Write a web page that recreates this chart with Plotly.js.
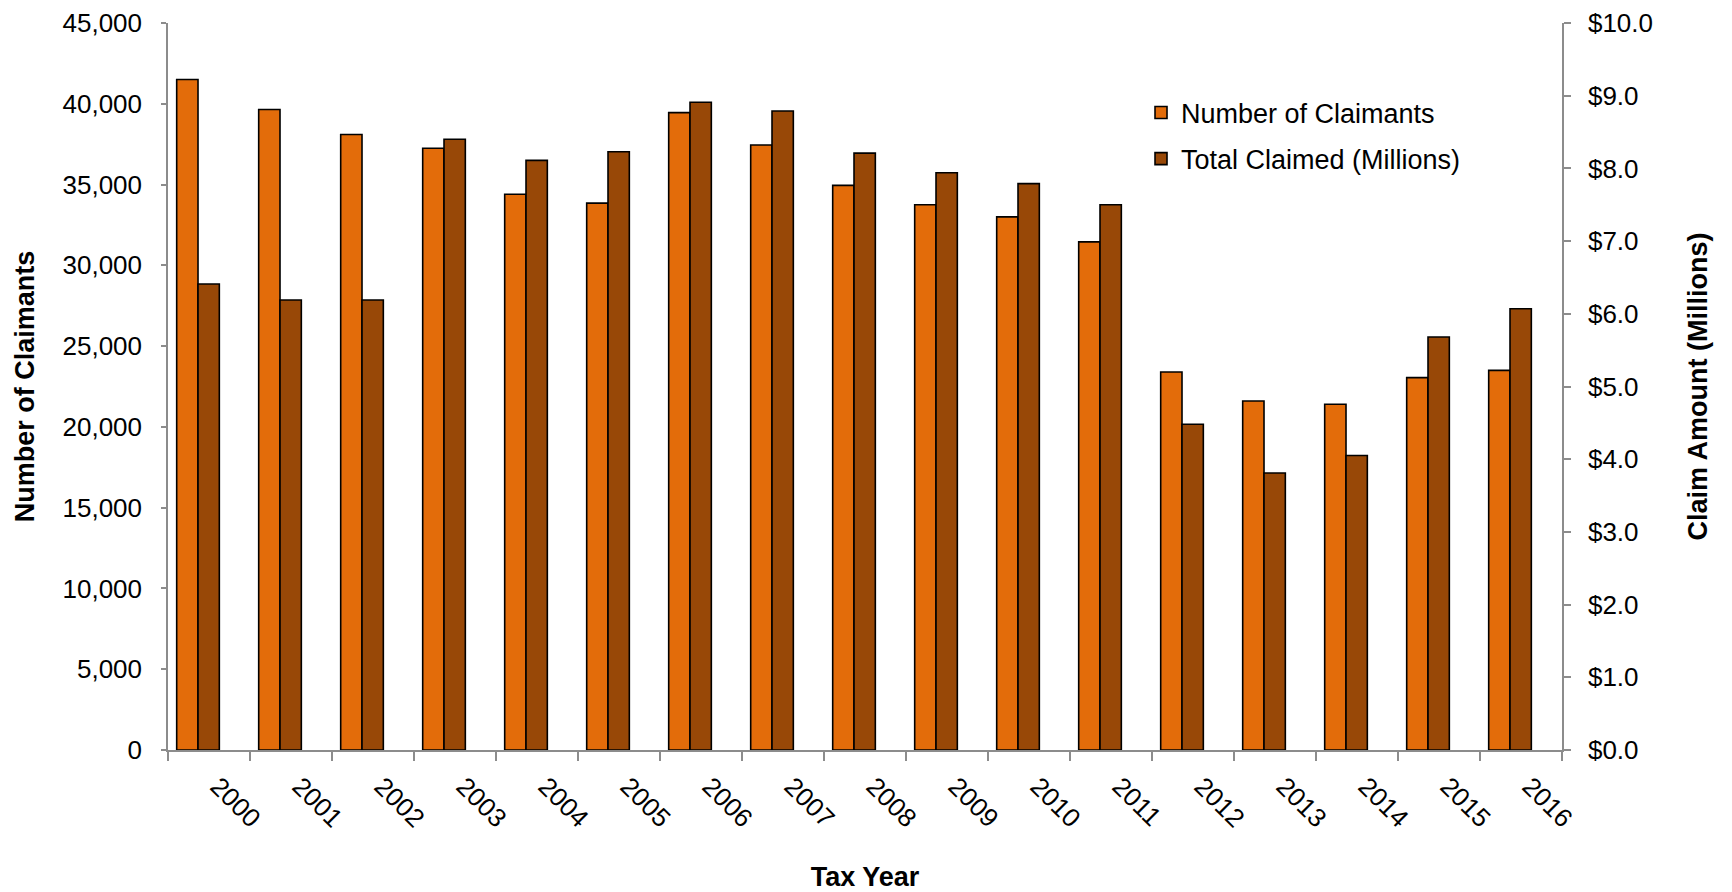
<!DOCTYPE html>
<html>
<head>
<meta charset="utf-8">
<script src="https://cdn.plot.ly/plotly-3.0.1.min.js"></script>
<style>
  html, body { margin: 0; padding: 0; background: #ffffff; }
  #chart { width: 1732px; height: 892px; }
</style>
</head>
<body>
<div id="chart"></div>
<script>
// Tax years on the category axis
const taxYears = ['2000', '2001', '2002', '2003', '2004', '2005', '2006', '2007', '2008',
                  '2009', '2010', '2011', '2012', '2013', '2014', '2015', '2016'];

// Number of claimants per tax year (left axis)
const claimants = [41500, 39650, 38100, 37250, 34400, 33850, 39450, 37450, 34950,
                   33750, 33000, 31450, 23400, 21600, 21400, 23050, 23500];

// Total amount claimed, millions of dollars (right axis)
const totalClaimedMillions = [6.41, 6.19, 6.19, 8.40, 8.11, 8.23, 8.91, 8.79, 8.21,
                              7.94, 7.79, 7.50, 4.48, 3.81, 4.05, 5.68, 6.07];

const FONT = '"Liberation Sans", Arial, sans-serif';
const AXIS_GREY = '#8c8c8c';
const ORANGE = '#E36C0A';
const BROWN = '#984807';

// Each category holds three equal slots; the two series fill the first two.
const slot = 0.26;
const firstOffset = -0.394;

const traces = [
  {
    type: 'bar',
    name: 'Number of Claimants',
    x: taxYears,
    y: claimants,
    yaxis: 'y',
    width: slot,
    offset: firstOffset,
    marker: { color: ORANGE, line: { color: '#000000', width: 1.6 } },
    legendgroup: 'a',
    hoverinfo: 'x+y'
  },
  {
    type: 'bar',
    name: 'Total Claimed (Millions)',
    x: taxYears,
    y: totalClaimedMillions,
    yaxis: 'y2',
    width: slot,
    offset: firstOffset + slot,
    marker: { color: BROWN, line: { color: '#000000', width: 1.6 } },
    legendgroup: 'b',
    hoverinfo: 'x+y'
  }
];

const layout = {
  width: 1732,
  height: 892,
  paper_bgcolor: '#ffffff',
  plot_bgcolor: '#ffffff',
  margin: { l: 168, r: 170, t: 23, b: 142, pad: 0 },
  barmode: 'overlay',
  font: { family: FONT, size: 26, color: '#000000' },
  showlegend: true,
  legend: {
    x: 0.698, y: 0.91, xanchor: 'left', yanchor: 'top',
    bgcolor: 'rgba(0,0,0,0)',
    font: { family: FONT, size: 27, color: '#000000' },
    tracegroupgap: 8,
    itemclick: false, itemdoubleclick: false
  },
  xaxis: {
    type: 'category',
    tickangle: 45,
    tickson: 'boundaries',
    ticks: 'outside',
    ticklen: 9,
    tickwidth: 1.5,
    tickcolor: AXIS_GREY,
    showline: true,
    linecolor: AXIS_GREY,
    linewidth: 1.5,
    showgrid: false,
    zeroline: false,
    automargin: false,
    ticklabelstandoff: 9,
    ticklabelshift: 9,
    tickfont: { family: FONT, size: 26, color: '#000000' },
    title: {
      text: 'Tax Year',
      font: { family: FONT, size: 27, color: '#000000', weight: 'bold' },
      standoff: 39
    }
  },
  yaxis: {
    range: [0, 45000],
    dtick: 5000,
    tick0: 0,
    tickformat: ',d',
    ticks: 'outside',
    ticklen: 5,
    tickwidth: 1.5,
    tickcolor: AXIS_GREY,
    showline: true,
    linecolor: AXIS_GREY,
    linewidth: 1.5,
    showgrid: false,
    zeroline: false,
    automargin: false,
    ticklabelstandoff: 14,
    tickfont: { family: FONT, size: 26, color: '#000000' },
    title: {
      text: 'Number of Claimants',
      font: { family: FONT, size: 27, color: '#000000', weight: 'bold' },
      standoff: 20
    }
  },
  yaxis2: {
    overlaying: 'y',
    side: 'right',
    range: [0, 10],
    dtick: 1,
    tick0: 0,
    tickformat: '.1f',
    tickprefix: '$',
    ticks: 'outside',
    ticklen: 7,
    tickwidth: 1.5,
    tickcolor: AXIS_GREY,
    showline: true,
    linecolor: AXIS_GREY,
    linewidth: 1.5,
    showgrid: false,
    zeroline: false,
    automargin: false,
    ticklabelstandoff: 12,
    tickfont: { family: FONT, size: 26, color: '#000000' },
    title: {
      text: 'Claim Amount (Millions)',
      font: { family: FONT, size: 27, color: '#000000', weight: 'bold' },
      standoff: 36
    }
  }
};

Plotly.newPlot('chart', traces, layout, { displayModeBar: false, responsive: false });
</script>
</body>
</html>
